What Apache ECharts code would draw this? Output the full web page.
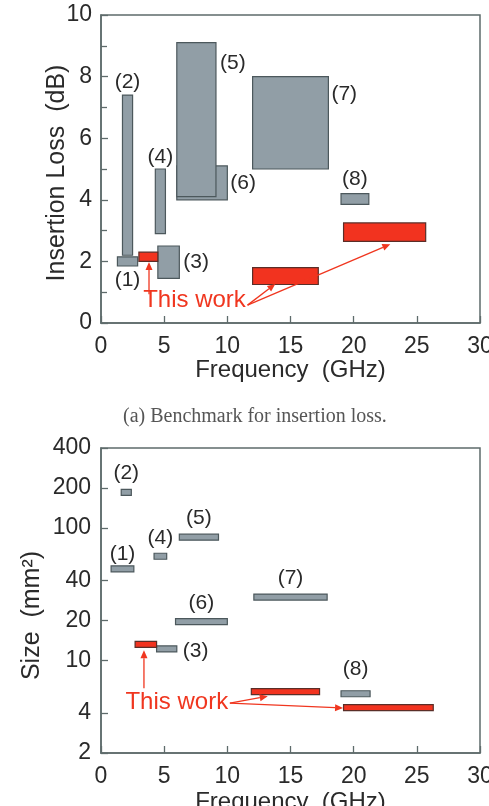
<!DOCTYPE html>
<html><head><meta charset="utf-8">
<script src="https://cdn.jsdelivr.net/npm/echarts@6/dist/echarts.min.js"></script>
<style>html,body{margin:0;padding:0;background:#fff}#c{width:489px;height:806px}</style>
</head><body><div id="c"></div>
<script>
// ---------- DATA ----------
const refLabels = ['(1)', '(2)', '(3)', '(4)', '(5)', '(6)', '(7)', '(8)'];
const freqTicks = [0, 5, 10, 15, 20, 25, 30];
const ilTicks = [0, 2, 4, 6, 8, 10];
const sizeTicks = [2, 4, 10, 20, 40, 100, 200, 400];

// (a) insertion loss: references, frequency band [low, high] GHz, IL range [min, max] dB
const ilRefFreqLow  = [1.3, 1.7, 4.5, 4.3, 6.0, 6.0, 12.0, 19.0];
const ilRefFreqHigh = [2.9, 2.5, 6.2, 5.1, 9.1, 10.0, 18.0, 21.2];
const ilRefMin      = [1.85, 2.2, 1.45, 2.9, 4.1, 4.0, 5.0, 3.85];
const ilRefMax      = [2.15, 7.4, 2.5, 5.0, 9.1, 5.1, 8.0, 4.2];
// (a) this work
const ilWorkFreqLow  = [3.0, 12.0, 19.2];
const ilWorkFreqHigh = [4.5, 17.2, 25.7];
const ilWorkMin      = [2.0, 1.25, 2.65];
const ilWorkMax      = [2.3, 1.8, 3.25];
// (a) "This work" annotation (data units)
const ilNoteFreq = 7.4, ilNoteIL = 0.72;
const ilArrowFromFreq = [3.8, 11.6, 11.6];
const ilArrowFromIL   = [0.93, 0.58, 0.58];
const ilArrowToFreq   = [3.8, 13.8, 22.9];
const ilArrowToIL     = [1.98, 1.27, 2.56];

// (b) size: references, frequency band [low, high] GHz, size mm^2
const sizeRefFreqLow  = [0.8, 1.6, 4.4, 4.2, 6.2, 5.9, 12.1, 19.0];
const sizeRefFreqHigh = [2.6, 2.4, 6.0, 5.2, 9.3, 10.0, 17.9, 21.3];
const sizeRef         = [49, 185, 12.2, 61, 85, 19.6, 30, 5.6];
// (b) this work
const sizeWorkFreqLow  = [2.7, 11.9, 19.2];
const sizeWorkFreqHigh = [4.4, 17.3, 26.3];
const sizeWork         = [13.2, 5.8, 4.4];
// (b) "This work" annotation (data units)
const sizeNoteFreq = 6.0, sizeNoteSize = 4.85;
const sizeArrowFromFreq = [3.4, 10.2, 10.2];
const sizeArrowFromSize = [6.15, 4.75, 4.75];
const sizeArrowToFreq   = [3.4, 13.2, 19.16];
const sizeArrowToSize   = [11.9, 5.36, 4.37];

const captionText = '(a) Benchmark for insertion loss.';

// ---------- STYLE ----------
const FONT = '"Liberation Sans", Arial, Helvetica, sans-serif';
const AX = '#5e6b6b';
const TXT = '#2a2a2a';
const GREY = '#919ea6', GREY_EDGE = '#4c585c';
const RED = '#f2331f', RED_EDGE = '#5a2e28';
const ANNO = '#f0361f';
// label placement relative to each reference mark (pixels)
const ilLabelPlace = [
  {pos: 'bottom', gap: 4}, {pos: 'top', gap: 2}, {pos: 'right', gap: 4}, {pos: 'top', gap: 1},
  {pos: 'rightTop', gap: 4, dy: 20}, {pos: 'right', gap: 3}, {pos: 'rightTop', gap: 3, dy: 18}, {pos: 'top', gap: 4}
];
const sizeLabelPlace = [
  {pos: 'top', gap: 1}, {pos: 'top', gap: 6}, {pos: 'right', gap: 6, dy: 2}, {pos: 'top', gap: 5},
  {pos: 'top', gap: 5}, {pos: 'top', gap: 5}, {pos: 'top', gap: 5}, {pos: 'top', gap: 11}
];
const ilDrawOrder = [0, 1, 2, 3, 5, 4, 6, 7];
const BAR_H = 6;

function labelEl(text, x0, x1, y0, y1, place) {
  let x, y, align, va;
  const dy = place.dy || 0;
  if (place.pos === 'top') { x = (x0 + x1) / 2; y = y0 - place.gap; align = 'center'; va = 'bottom'; }
  else if (place.pos === 'bottom') { x = (x0 + x1) / 2; y = y1 + place.gap; align = 'center'; va = 'top'; }
  else if (place.pos === 'right') { x = x1 + place.gap; y = (y0 + y1) / 2 + dy; align = 'left'; va = 'middle'; }
  else { x = x1 + place.gap; y = y0 + dy; align = 'left'; va = 'middle'; }
  return {type: 'text', style: {text: text, x: x, y: y, align: align, verticalAlign: va,
    fill: TXT, font: '21px ' + FONT}};
}

// ---------- SERIES DATA ----------
const ilRefData = ilDrawOrder.map(i => [ilRefFreqLow[i], ilRefFreqHigh[i], ilRefMin[i], ilRefMax[i], i]);
const ilWorkData = ilWorkFreqLow.map((v, i) => [v, ilWorkFreqHigh[i], ilWorkMin[i], ilWorkMax[i]]);
const ilArrowData = ilArrowFromFreq.map((v, i) => [v, ilArrowFromIL[i], ilArrowToFreq[i], ilArrowToIL[i]]);
const sizeRefData = sizeRef.map((v, i) => [sizeRefFreqLow[i], sizeRefFreqHigh[i], v, i]);
const sizeWorkData = sizeWork.map((v, i) => [sizeWorkFreqLow[i], sizeWorkFreqHigh[i], v]);
const sizeArrowData = sizeArrowFromFreq.map((v, i) => [v, sizeArrowFromSize[i], sizeArrowToFreq[i], sizeArrowToSize[i]]);

function boxRender(fill, edge, withLabel) {
  return function (params, api) {
    const a = api.coord([api.value(0), api.value(3)]);
    const b = api.coord([api.value(1), api.value(2)]);
    const children = [{type: 'rect', shape: {x: a[0], y: a[1], width: b[0] - a[0], height: b[1] - a[1]},
      style: {fill: fill, stroke: edge, lineWidth: 1.2}}];
    if (withLabel) {
      const i = api.value(4);
      children.push(labelEl(refLabels[i], a[0], b[0], a[1], b[1], ilLabelPlace[i]));
    }
    return {type: 'group', children: children};
  };
}
function barRender(fill, edge, withLabel) {
  return function (params, api) {
    const a = api.coord([api.value(0), api.value(2)]);
    const b = api.coord([api.value(1), api.value(2)]);
    const y0 = a[1] - BAR_H / 2, y1 = a[1] + BAR_H / 2;
    const children = [{type: 'rect', shape: {x: a[0], y: y0, width: b[0] - a[0], height: BAR_H},
      style: {fill: fill, stroke: edge, lineWidth: 1.2}}];
    if (withLabel) {
      const i = api.value(3);
      children.push(labelEl(refLabels[i], a[0], b[0], y0, y1, sizeLabelPlace[i]));
    }
    return {type: 'group', children: children};
  };
}
function arrowRender(params, api) {
  const a = api.coord([api.value(0), api.value(1)]);
  const b = api.coord([api.value(2), api.value(3)]);
  const ang = Math.atan2(b[1] - a[1], b[0] - a[0]);
  const L = 8, W = 3.5;
  const base = [b[0] - L * Math.cos(ang), b[1] - L * Math.sin(ang)];
  const nx = -Math.sin(ang) * W, ny = Math.cos(ang) * W;
  return {type: 'group', children: [
    {type: 'line', shape: {x1: a[0], y1: a[1], x2: base[0], y2: base[1]}, style: {stroke: ANNO, lineWidth: 1.3}},
    {type: 'polygon', shape: {points: [[b[0], b[1]], [base[0] + nx, base[1] + ny], [base[0] - nx, base[1] - ny]]},
      style: {fill: ANNO}}
  ]};
}
function noteRender(params, api) {
  const p = api.coord([api.value(0), api.value(1)]);
  return {type: 'text', style: {text: 'This work', x: p[0], y: p[1], align: 'center', verticalAlign: 'middle',
    fill: ANNO, font: '24px ' + FONT}};
}

function xAxis(gridIndex, nameGap) {
  return {
    type: 'value', gridIndex: gridIndex, min: freqTicks[0], max: freqTicks[freqTicks.length - 1], interval: 5,
    name: 'Frequency  (GHz)', nameLocation: 'middle', nameGap: nameGap, nameMoveOverlap: false,
    nameTextStyle: {fontFamily: FONT, fontSize: 24, color: TXT},
    axisLine: {show: true, lineStyle: {color: AX, width: 1.5}},
    axisTick: {show: true, inside: true, length: 7, lineStyle: {color: AX, width: 1.3}},
    axisLabel: {fontFamily: FONT, fontSize: 23, color: TXT, margin: 12, showMaxLabel: true, hideOverlap: false},
    splitLine: {show: false}
  };
}

const chart = echarts.init(document.getElementById('c'), null, {renderer: 'canvas'});
chart.setOption({
  animation: false,
  backgroundColor: '#fff',
  title: {text: captionText, left: 118, top: 402,
    textStyle: {fontFamily: '"Liberation Serif", "Times New Roman", serif', fontSize: 20, fontWeight: 'normal', color: '#555'}},
  grid: [
    {left: 101, top: 15, width: 379, height: 308, show: true, borderColor: AX, borderWidth: 1.5,
      backgroundColor: 'transparent', containLabel: false, outerBoundsMode: 'none'},
    {left: 101, top: 448, width: 379, height: 305, show: true, borderColor: AX, borderWidth: 1.5,
      backgroundColor: 'transparent', containLabel: false, outerBoundsMode: 'none'}
  ],
  xAxis: [xAxis(0, 35), xAxis(1, 37)],
  yAxis: [
    {type: 'value', gridIndex: 0, min: ilTicks[0], max: ilTicks[ilTicks.length - 1], interval: 2,
      name: 'Insertion Loss  (dB)', nameLocation: 'middle', nameGap: 31, nameMoveOverlap: false,
      nameTextStyle: {fontFamily: FONT, fontSize: 25, color: TXT, padding: [0, 8, 0, 0]},
      axisLine: {show: true, lineStyle: {color: AX, width: 1.5}},
      axisTick: {show: true, inside: true, length: 7, lineStyle: {color: AX, width: 1.3}},
      minorTick: {show: true, splitNumber: 2, length: 6, lineStyle: {color: AX, width: 1.3}},
      axisLabel: {fontFamily: FONT, fontSize: 23, color: TXT, margin: 9},
      splitLine: {show: false}, minorSplitLine: {show: false}},
    {type: 'log', logBase: 10, gridIndex: 1, min: sizeTicks[0], max: sizeTicks[sizeTicks.length - 1],
      name: 'Size  (mm²)', nameLocation: 'middle', nameGap: 56, nameMoveOverlap: false,
      nameTextStyle: {fontFamily: FONT, fontSize: 25, color: TXT, padding: [0, 30, 0, 0]},
      axisLine: {show: true, lineStyle: {color: AX, width: 1.5}},
      axisTick: {show: true, inside: true, length: 7, customValues: sizeTicks, lineStyle: {color: AX, width: 1.3}},
      axisLabel: {fontFamily: FONT, fontSize: 23, color: TXT, margin: 10, customValues: sizeTicks},
      splitLine: {show: false}, minorTick: {show: false}}
  ],
  series: [
    {type: 'custom', name: 'IL references', xAxisIndex: 0, yAxisIndex: 0, data: ilRefData,
      encode: {x: [0, 1], y: [2, 3]}, renderItem: boxRender(GREY, GREY_EDGE, true), clip: false},
    {type: 'custom', name: 'IL this work', xAxisIndex: 0, yAxisIndex: 0, data: ilWorkData,
      encode: {x: [0, 1], y: [2, 3]}, renderItem: boxRender(RED, RED_EDGE, false), clip: false},
    {type: 'custom', name: 'IL arrows', xAxisIndex: 0, yAxisIndex: 0, data: ilArrowData,
      encode: {x: [0, 2], y: [1, 3]}, renderItem: arrowRender, clip: false, z: 5},
    {type: 'custom', name: 'IL note', xAxisIndex: 0, yAxisIndex: 0, data: [[ilNoteFreq, ilNoteIL]],
      encode: {x: 0, y: 1}, renderItem: noteRender, clip: false, z: 5},
    {type: 'custom', name: 'Size references', xAxisIndex: 1, yAxisIndex: 1, data: sizeRefData,
      encode: {x: [0, 1], y: 2}, renderItem: barRender(GREY, GREY_EDGE, true), clip: false},
    {type: 'custom', name: 'Size this work', xAxisIndex: 1, yAxisIndex: 1, data: sizeWorkData,
      encode: {x: [0, 1], y: 2}, renderItem: barRender(RED, RED_EDGE, false), clip: false},
    {type: 'custom', name: 'Size arrows', xAxisIndex: 1, yAxisIndex: 1, data: sizeArrowData,
      encode: {x: [0, 2], y: [1, 3]}, renderItem: arrowRender, clip: false, z: 5},
    {type: 'custom', name: 'Size note', xAxisIndex: 1, yAxisIndex: 1, data: [[sizeNoteFreq, sizeNoteSize]],
      encode: {x: 0, y: 1}, renderItem: noteRender, clip: false, z: 5}
  ]
});
</script></body></html>
